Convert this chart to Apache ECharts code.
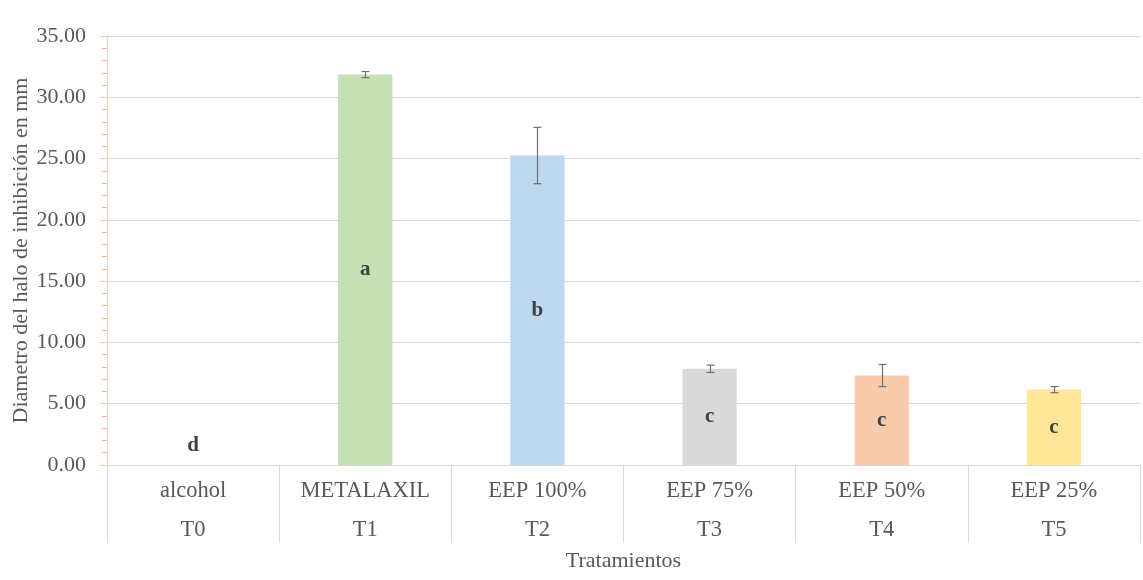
<!DOCTYPE html>
<html>
<head>
<meta charset="utf-8">
<script src="https://cdn.jsdelivr.net/npm/echarts@6/dist/echarts.min.js"></script>
<style>
  html, body { margin: 0; padding: 0; background: #fff; }
  #chart { width: 1143px; height: 580px; }
</style>
</head>
<body>
<div id="chart"></div>
<script>
// Treatments (two-level category labels)
const treatments = ['alcohol', 'METALAXIL', 'EEP 100%', 'EEP 75%', 'EEP 50%', 'EEP 25%'];
const codes = ['T0', 'T1', 'T2', 'T3', 'T4', 'T5'];
// Mean inhibition halo diameter (mm) and its error
const means = [0, 31.85, 25.25, 7.85, 7.3, 6.15];
const errors = [0, 0.25, 2.3, 0.3, 0.9, 0.25];
// Significance group letters
const groups = ['d', 'a', 'b', 'c', 'c', 'c'];
const barColors = ['#A9D18E', '#C5E0B4', '#BDD7EE', '#D9D9D9', '#F8CBAD', '#FFE699'];
const yTicks = { min: 0, max: 35, interval: 5 };

const FONT = '"Liberation Serif", "DejaVu Serif", serif';
const TEXT = '#595959';

const categories = treatments.map((t, i) => t + '\n' + codes[i]);

const barData = means.map((v, i) => {
  const item = {
    value: v,
    itemStyle: { color: barColors[i] },
    label: { formatter: groups[i] }
  };
  if (v === 0) {
    item.label.position = 'top';
    item.label.distance = 9;
  }
  return item;
});

const errData = means.map((v, i) => [i, v - errors[i], v + errors[i]]);

const chart = echarts.init(document.getElementById('chart'), null, { renderer: 'canvas' });
chart.setOption({
  animation: false,
  backgroundColor: '#ffffff',
  textStyle: { fontFamily: FONT },
  grid: { left: 107, right: 3, top: 36, bottom: 115, containLabel: false, outerBoundsMode: 'none' },
  xAxis: {
    type: 'category',
    data: categories,
    name: 'Tratamientos',
    nameLocation: 'middle',
    nameGap: 85,
    nameMoveOverlap: false,
    nameTextStyle: { fontFamily: FONT, fontSize: 22, color: TEXT },
    axisLine: { show: true, lineStyle: { color: '#D9D9D9', width: 1 } },
    axisTick: { show: true, length: 78, interval: 0, lineStyle: { color: '#D9D9D9' } },
    axisLabel: {
      interval: 0,
      margin: 7,
      fontFamily: FONT,
      fontSize: 22.5,
      lineHeight: 39,
      color: TEXT
    },
    splitLine: { show: false }
  },
  yAxis: {
    type: 'value',
    min: yTicks.min,
    max: yTicks.max,
    interval: yTicks.interval,
    name: 'Diametro del halo de inhibición en mm',
    nameLocation: 'middle',
    nameGap: 75,
    nameMoveOverlap: false,
    nameTextStyle: { fontFamily: FONT, fontSize: 22, color: TEXT },
    axisLine: { show: true, lineStyle: { color: '#F8CBAD', width: 1 } },
    axisTick: { show: true, length: 7, lineStyle: { color: '#F8CBAD' } },
    minorTick: { show: true, splitNumber: 5, length: 5, lineStyle: { color: '#F4B183' } },
    axisLabel: {
      margin: 21,
      fontFamily: FONT,
      fontSize: 22,
      color: TEXT,
      formatter: v => v.toFixed(2)
    },
    splitLine: { show: true, lineStyle: { color: '#D9D9D9', width: 1 } }
  },
  series: [
    {
      type: 'bar',
      data: barData,
      barWidth: '31.5%',
      label: {
        show: true,
        position: 'inside',
        fontFamily: FONT,
        fontSize: 21,
        fontWeight: 'bold',
        color: '#404040'
      },
      z: 2
    },
    {
      type: 'custom',
      data: errData,
      z: 3,
      renderItem: function (params, api) {
        const idx = api.value(0);
        if (api.value(2) === api.value(1)) return null;
        const lo = api.coord([idx, api.value(1)]);
        const hi = api.coord([idx, api.value(2)]);
        const x = Math.round(hi[0]) + 0.5;
        const cap = 4;
        const style = { stroke: '#6F6F6F', lineWidth: 1.2 };
        return {
          type: 'group',
          children: [
            { type: 'line', shape: { x1: x, y1: hi[1], x2: x, y2: lo[1] }, style },
            { type: 'line', shape: { x1: x - cap, y1: hi[1], x2: x + cap, y2: hi[1] }, style },
            { type: 'line', shape: { x1: x - cap, y1: lo[1], x2: x + cap, y2: lo[1] }, style }
          ]
        };
      }
    }
  ]
});
</script>
</body>
</html>
